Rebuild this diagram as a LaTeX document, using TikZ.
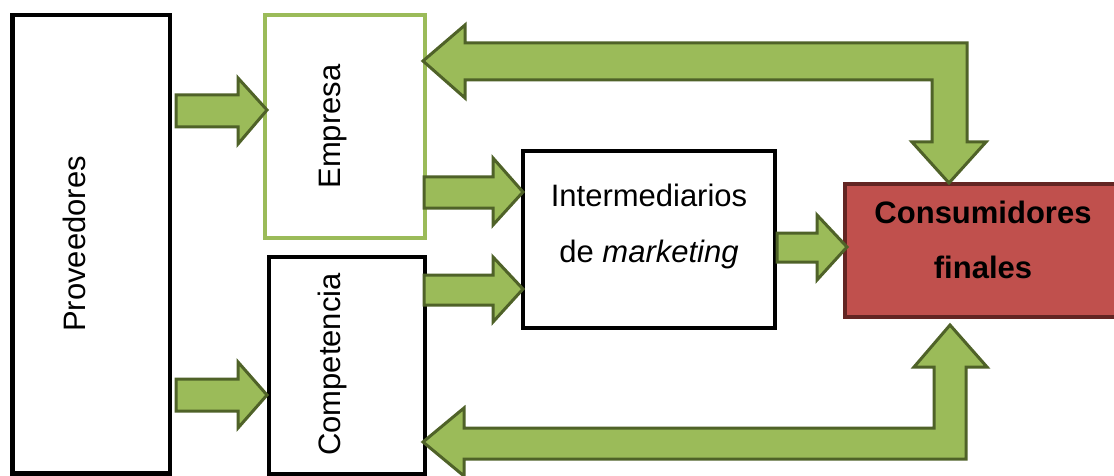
\documentclass[tikz,border=0pt]{standalone}
\usepackage{fontspec}
\setmainfont{Liberation Sans}
\definecolor{arrfill}{HTML}{9BBB59}
\definecolor{arrdraw}{HTML}{4F6228}
\definecolor{consfill}{HTML}{C0504D}
\definecolor{consdraw}{HTML}{632523}
\begin{document}
\begin{tikzpicture}[x=1pt,y=-1pt,
  box/.style={draw=black, line width=4.5pt, fill=white, inner sep=0pt},
  blockarrow/.style={fill=arrfill, draw=arrdraw, line width=3pt, line join=miter},
  lbl/.style={inner sep=0pt, anchor=base, font=\fontsize{31}{37}\selectfont},
]
\useasboundingbox (0,0) rectangle (1114,476);
\fill[white] (0,0) rectangle (1114,476);

% boxes (centre-line geometry)
\node[box, minimum width=157.5pt, minimum height=458pt] (prov) at (91.25,244.25) {};
\node[box, draw=arrfill, minimum width=160pt, minimum height=223pt] (emp) at (345,126.5) {};
\node[box, minimum width=156pt, minimum height=217pt] (comp) at (347,365.5) {};
\node[box, minimum width=252pt, minimum height=177pt] (inter) at (649,239.5) {};
\node[box, draw=consdraw, fill=consfill, line width=4pt, minimum width=275pt, minimum height=133pt] (cons) at (982.5,250.5) {};

% labels
\node[lbl, rotate=90] (tprov) at (85,244) {Proveedores};
\node[lbl, rotate=90] (temp) at (340,126.5) {Empresa};
\node[lbl, rotate=90] (tcomp) at (340,364.5) {Competencia};
\node[lbl] (tint1) at (649,207) {Intermediarios};
\node[lbl] (tint2) at (649,262) {de \textit{marketing}};
\node[lbl, font=\fontsize{31}{37}\selectfont\bfseries] (tcons1) at (983,223) {Consumidores};
\node[lbl, font=\fontsize{31}{37}\selectfont\bfseries] (tcons2) at (983,278) {finales};

% straight block arrows
% Proveedores -> Empresa
\draw[blockarrow] (176,95) -- (238,95) -- (238,78) -- (267,110) -- (238,144) -- (238,127) -- (176,127) -- cycle;
% Proveedores -> Competencia
\draw[blockarrow] (176,379) -- (238,379) -- (238,362) -- (267,395) -- (238,428) -- (238,411) -- (176,411) -- cycle;
% Empresa -> Intermediarios
\draw[blockarrow] (424,177) -- (493,177) -- (493,158) -- (523,192) -- (493,225) -- (493,208) -- (424,208) -- cycle;
% Competencia -> Intermediarios
\draw[blockarrow] (424,275) -- (493,275) -- (493,257) -- (523,289) -- (493,322) -- (493,305) -- (424,305) -- cycle;
% Intermediarios -> Consumidores
\draw[blockarrow] (777,233) -- (817,233) -- (817,215) -- (847,247) -- (817,280) -- (817,262) -- (777,262) -- cycle;

% top bent double arrow: Consumidores <-> Empresa
\draw[blockarrow] (423,61) -- (465,25) -- (465,43) -- (967,43) -- (967,142) -- (986,142)
  -- (949,183) -- (912,142) -- (932,142) -- (932,80) -- (465,80) -- (465,98) -- cycle;

% bottom bent double arrow: Consumidores <-> Competencia
\draw[blockarrow] (950,325) -- (987,367) -- (966,367) -- (966,459) -- (464,459) -- (464,476)
  -- (423,442) -- (464,408) -- (464,428) -- (934,428) -- (934,367) -- (914,367) -- cycle;
\end{tikzpicture}
\end{document}
